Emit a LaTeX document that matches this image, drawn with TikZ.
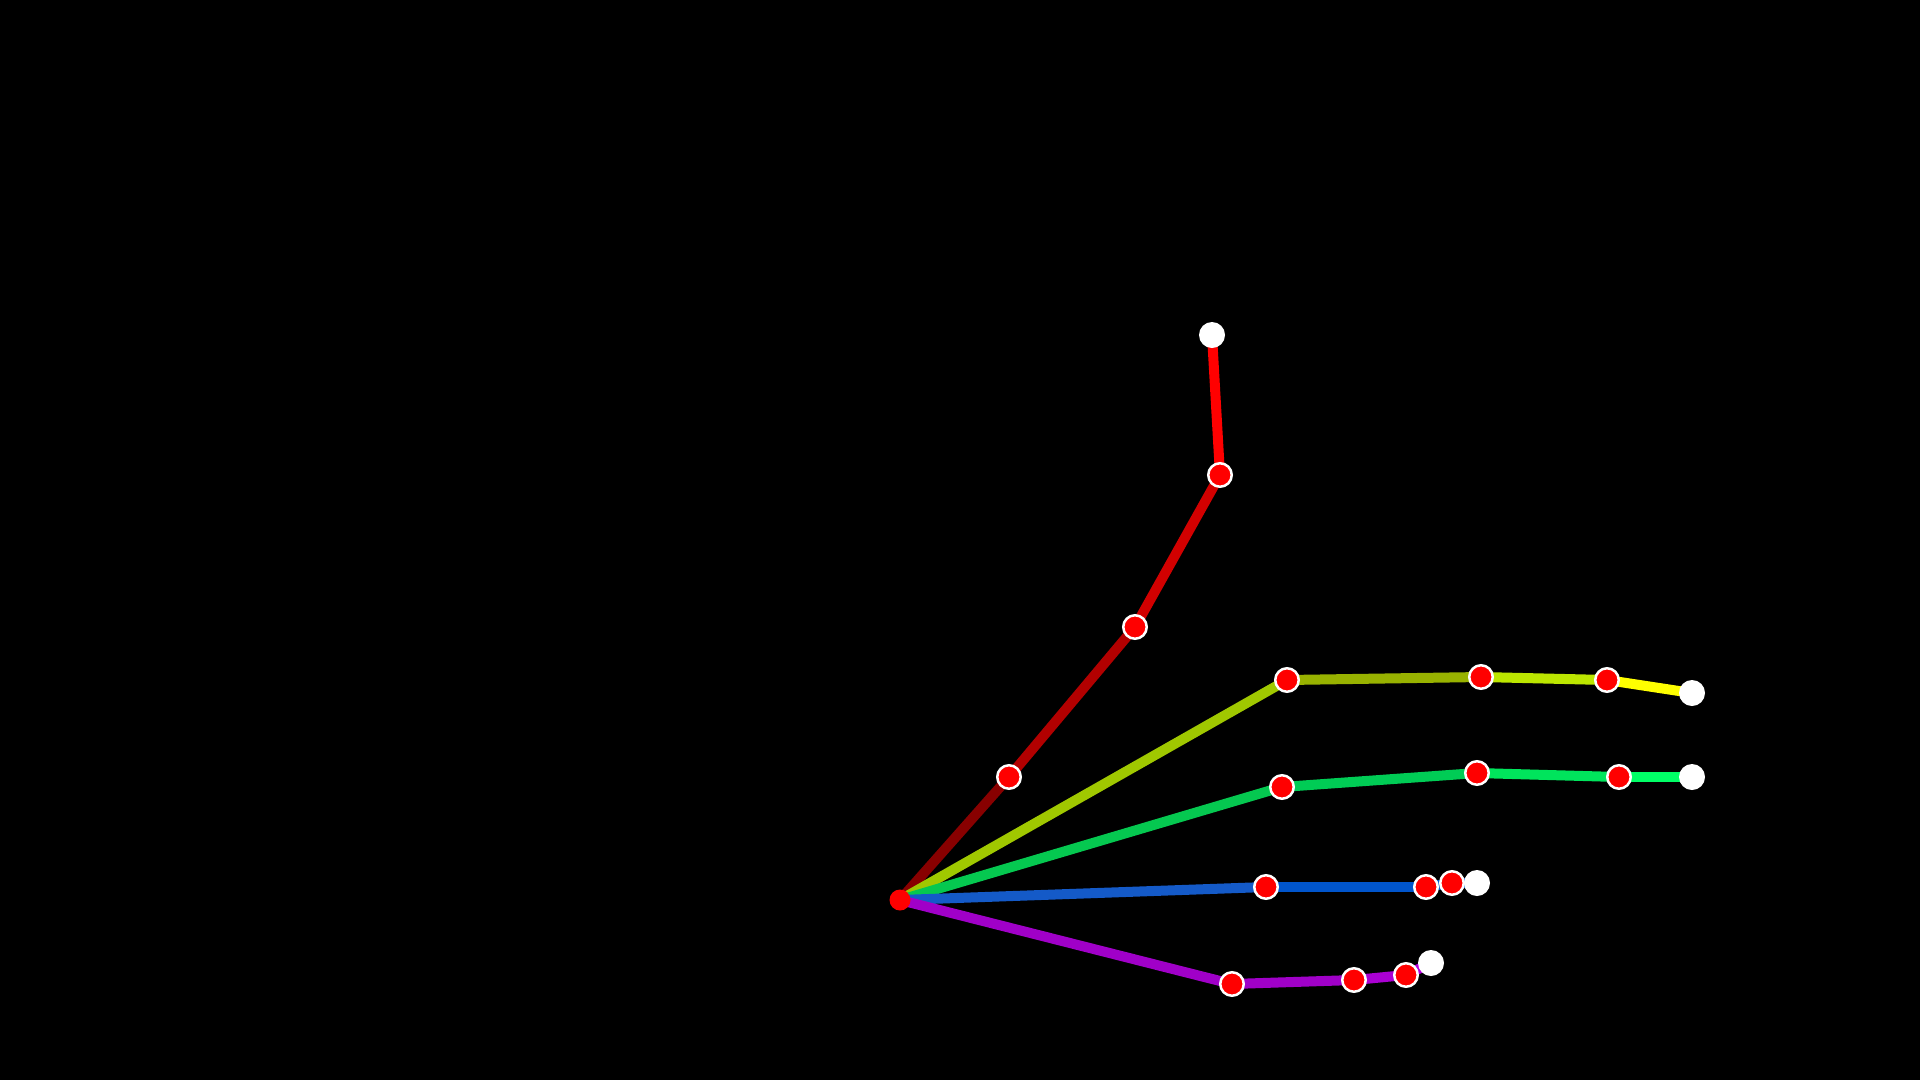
\documentclass[tikz,border=0pt]{standalone}
\usetikzlibrary{calc}
\definecolor{thA}{RGB}{136,0,0}
\definecolor{thB}{RGB}{178,0,0}
\definecolor{thC}{RGB}{210,0,0}
\definecolor{thD}{RGB}{255,0,0}
\definecolor{inA}{RGB}{160,200,0}
\definecolor{inB}{RGB}{152,178,0}
\definecolor{inC}{RGB}{188,230,0}
\definecolor{inD}{RGB}{255,255,0}
\definecolor{miA}{RGB}{5,200,80}
\definecolor{miB}{RGB}{0,204,85}
\definecolor{miC}{RGB}{0,228,92}
\definecolor{miD}{RGB}{0,255,102}
\definecolor{riA}{RGB}{20,90,200}
\definecolor{riB}{RGB}{0,85,204}
\definecolor{riC}{RGB}{0,90,210}
\definecolor{riD}{RGB}{0,100,220}
\definecolor{piA}{RGB}{160,0,200}
\definecolor{piB}{RGB}{160,0,200}
\definecolor{piC}{RGB}{170,0,210}
\definecolor{piD}{RGB}{180,0,220}
\tikzset{
  bone/.style={line width=10pt, line cap=round},
  joint/.style={circle, fill=red, draw=white, line width=2.5pt, inner sep=0pt, minimum size=23.5pt},
  tipjoint/.style={circle, fill=white, inner sep=0pt, minimum size=26pt},
  wristjoint/.style={circle, fill=red, inner sep=0pt, minimum size=21pt}
}
\begin{document}
\begin{tikzpicture}[x=1pt,y=-1pt]
\fill[black] (0,0) rectangle (1920,1080);
\useasboundingbox (0,0) rectangle (1920,1080);
% coordinates
\coordinate (w) at (900,900);
\coordinate (t1) at (1009,777);
\coordinate (t2) at (1135,627);
\coordinate (t3) at (1220,475);
\coordinate (t4) at (1212,335);
\coordinate (i1) at (1287,680);
\coordinate (i2) at (1481,677);
\coordinate (i3) at (1607,680);
\coordinate (i4) at (1692,693);
\coordinate (m1) at (1282,787);
\coordinate (m2) at (1477,773);
\coordinate (m3) at (1619,777);
\coordinate (m4) at (1692,777);
\coordinate (r1) at (1266,887);
\coordinate (r2) at (1426,887);
\coordinate (r3) at (1452,883);
\coordinate (r4) at (1477,883);
\coordinate (p1) at (1232,984);
\coordinate (p2) at (1354,980);
\coordinate (p3) at (1406,975);
\coordinate (p4) at (1431,963);
% bones
\draw[bone,thA] (w) -- (t1);
\draw[bone,thB] (t1) -- (t2);
\draw[bone,thC] (t2) -- (t3);
\draw[bone,thD] (t3) -- (t4);
\draw[bone,inA] (w) -- (i1);
\draw[bone,inB] (i1) -- (i2);
\draw[bone,inC] (i2) -- (i3);
\draw[bone,inD] (i3) -- (i4);
\draw[bone,miA] (w) -- (m1);
\draw[bone,miB] (m1) -- (m2);
\draw[bone,miC] (m2) -- (m3);
\draw[bone,miD] (m3) -- (m4);
\draw[bone,riA] (w) -- (r1);
\draw[bone,riB] (r1) -- (r2);
\draw[bone,riC] (r2) -- (r3);
\draw[bone,riD] (r3) -- (r4);
\draw[bone,piA] (w) -- (p1);
\draw[bone,piB] (p1) -- (p2);
\draw[bone,piC] (p2) -- (p3);
\draw[bone,piD] (p3) -- (p4);
% joints
\node[wristjoint] (nw) at (w) {};
\foreach \f in {t,i,m,r,p}{
  \node[joint] (n\f1) at (\f1) {};
  \node[joint] (n\f2) at (\f2) {};
  \node[joint] (n\f3) at (\f3) {};
  \node[tipjoint] (n\f4) at (\f4) {};
}
\end{tikzpicture}
\end{document}
